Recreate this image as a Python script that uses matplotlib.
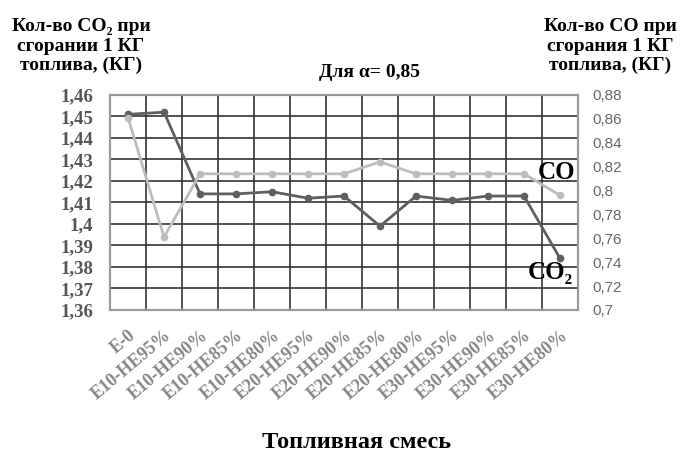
import numpy as np
import matplotlib.pyplot as plt

# данные
categories = ['E-0', 'E10-HE95%', 'E10-HE90%', 'E10-HE85%', 'E10-HE80%',
              'E20-HE95%', 'E20-HE90%', 'E20-HE85%', 'E20-HE80%',
              'E30-HE95%', 'E30-HE90%', 'E30-HE85%', 'E30-HE80%']
co2 = [1.451, 1.452, 1.414, 1.414, 1.415, 1.412, 1.413, 1.399, 1.413, 1.411, 1.413, 1.413, 1.384]
co = [0.861, 0.761, 0.814, 0.814, 0.814, 0.814, 0.814, 0.824, 0.814, 0.814, 0.814, 0.814, 0.796]
left_ticks = [1.36, 1.37, 1.38, 1.39, 1.40, 1.41, 1.42, 1.43, 1.44, 1.45, 1.46]
left_labels = ['1,36', '1,37', '1,38', '1,39', '1,4', '1,41', '1,42', '1,43', '1,44', '1,45', '1,46']
right_ticks = [0.70, 0.72, 0.74, 0.76, 0.78, 0.80, 0.82, 0.84, 0.86, 0.88]
right_labels = ['0,7', '0,72', '0,74', '0,76', '0,78', '0,8', '0,82', '0,84', '0,86', '0,88']

serif = ['Liberation Serif', 'DejaVu Serif']

fig = plt.figure(figsize=(6.8, 4.53), dpi=100)
ax = fig.add_axes([0.1618, 0.3157, 0.6882, 0.4746])
ax2 = ax.twinx()

x = np.arange(len(categories))

# сетка
ax.set_xlim(-0.5, len(categories) - 0.5)
ax.set_ylim(1.36, 1.46)
ax.set_yticks(left_ticks)
ax.set_yticklabels(left_labels, fontfamily=serif, fontweight='bold', fontsize=13.5, color='#555555')
ax.set_xticks(x)
ax.set_xticklabels(categories, rotation=40, ha='right', rotation_mode='anchor',
                   fontfamily=serif, fontweight='bold', fontsize=13, color='#858585')
ax.set_xticks(np.arange(len(categories) + 1) - 0.5, minor=True)
ax.tick_params(axis='x', which='both', length=0, pad=12)
ax.tick_params(axis='y', length=0, pad=12)
ax.grid(True, axis='y', color='#333333', linewidth=1.2)
ax.grid(True, axis='x', which='minor', color='#333333', linewidth=1.2)
ax.set_axisbelow(True)

ax2.set_ylim(0.70, 0.88)
ax2.set_yticks(right_ticks)
ax2.set_yticklabels(right_labels, fontfamily=['Liberation Sans', 'DejaVu Sans'],
                    fontsize=11, color='#666666')
ax2.tick_params(axis='y', length=0, pad=10)

for a in (ax, ax2):
    for s in a.spines.values():
        s.set_color('#999999')
        s.set_linewidth(1.5)

# линии
ax.plot(x, co2, '-o', color='#5f5f5f', linewidth=2, markersize=4.5, zorder=3)
ax2.plot(x, co, '-o', color='#bdbdbd', linewidth=2, markersize=4.5, zorder=3)

# подписи
ax2.text(11.39, 0.815, 'CO', fontfamily=serif, fontweight='bold', fontsize=18, va='center', ha='left')
ax2.text(11.11, 0.731, 'CO₂', fontfamily=serif, fontweight='bold', fontsize=18, va='center', ha='left')

fig.text(0.544, 0.839, 'Для α= 0,85', fontfamily=serif, fontweight='bold', fontsize=14,
         ha='center', va='center')
fig.text(0.119, 0.898, 'Кол-во CO₂ при\nсгорании 1 КГ\nтоплива, (КГ)', fontfamily=serif,
         fontweight='bold', fontsize=14, ha='center', va='center', linespacing=1.2)
fig.text(0.897, 0.898, 'Кол-во CO при\nсгорания 1 КГ\nтоплива, (КГ)', fontfamily=serif,
         fontweight='bold', fontsize=14, ha='center', va='center', linespacing=1.2)
fig.text(0.524, 0.024, 'Топливная смесь', fontfamily=serif, fontweight='bold', fontsize=17.5,
         ha='center', va='center')

plt.savefig('out.png', dpi=100)
